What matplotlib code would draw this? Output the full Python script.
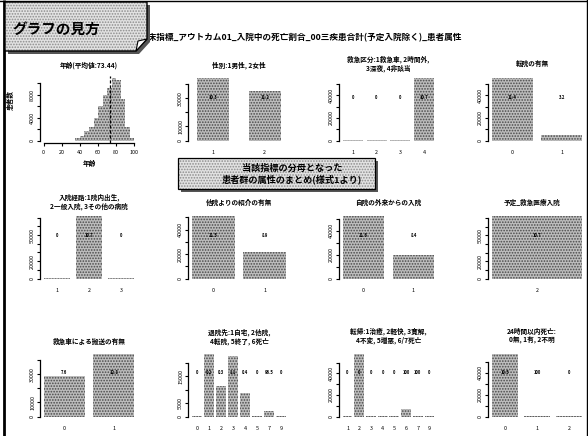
import matplotlib
matplotlib.use("Agg")
import matplotlib.pyplot as plt
from matplotlib.patches import Polygon, Rectangle
import numpy as np

plt.rcParams['font.family'] = ['Noto Sans CJK JP', 'DejaVu Sans']
plt.rcParams['hatch.linewidth'] = 0.8

W, H = 588, 436

# ---------------- data ----------------
MAIN_TITLE = "臨床指標_アウトカム01_入院中の死亡割合_00三疾患合計(予定入院除く)_患者属性"
GUIDE_LABEL = "グラフの見方"
SUMMARY_LABEL = "当該指標の分母となった\n患者群の属性のまとめ(様式1より)"

AGE_MEAN = 73.44
AGE_TITLE = f"年齢(平均値:{AGE_MEAN:.2f})"
AGE_EDGES = [35, 40, 45, 50, 55, 60, 65, 70, 75, 80, 85, 90, 95, 100]
AGE_COUNTS = [400, 800, 1600, 2400, 4000, 6000, 8000, 9200, 10800, 10600, 7200, 2400, 400]
AGE_XTICKS = [0, 20, 40, 60, 80, 100]
AGE_YTICKS = [0, 2000, 4000, 6000, 8000, 10000]
AGE_YLABELS = ["0", "", "4000", "", "8000", ""]

SEX_TITLE = "性別:1男性, 2女性"
SEX_CATS = ["1", "2"]
SEX_N = [44000, 35000]
SEX_RATE = ["10.3", "11.2"]
SEX_YTICKS = [0, 10000, 20000, 30000, 40000]
SEX_YLABELS = ["0", "10000", "", "30000", ""]

EMERG_TITLE = "救急区分:1救急車, 2時間外,\n3深夜, 4非該当"
EMERG_CATS = ["1", "2", "3", "4"]
EMERG_N = [300, 150, 250, 55000]
EMERG_RATE = ["0", "0", "0", "10.7"]

TRANSFER_TITLE = "転院の有無"
TRANSFER_CATS = ["0", "1"]
TRANSFER_N = [55000, 5000]
TRANSFER_RATE = ["11.4", "3.2"]

TICKS_50K = [0, 10000, 20000, 30000, 40000, 50000]
LABELS_50K = ["0", "", "20000", "", "40000", ""]

ROUTE_TITLE = "入院経路:1院内出生,\n2一般入院, 3その他の病院"
ROUTE_CATS = ["1", "2", "3"]
ROUTE_N = [200, 71500, 300]
ROUTE_RATE = ["0", "10.7", "0"]

REFERRAL_TITLE = "他院よりの紹介の有無"
REFERRAL_CATS = ["0", "1"]
REFERRAL_N = [50700, 21300]
REFERRAL_RATE = ["11.5", "8.9"]

OUTPT_TITLE = "自院の外来からの入院"
OUTPT_CATS = ["0", "1"]
OUTPT_N = [52000, 20000]
OUTPT_RATE = ["11.6", "8.4"]

ADMIT_TITLE = "予定_救急医療入院"
ADMIT_CATS = ["2"]
ADMIT_N = [72000]
ADMIT_RATE = ["10.7"]

TICKS_70K = [0, 10000, 20000, 30000, 40000, 50000, 60000, 70000]
LABELS_70K = ["0", "", "20000", "", "", "50000", "", ""]

AMB_TITLE = "救急車による搬送の有無"
AMB_CATS = ["0", "1"]
AMB_N = [29000, 44600]
AMB_RATE = ["7.6", "12.8"]
TICKS_40K = [0, 10000, 20000, 30000, 40000]
LABELS_40K = ["0", "10000", "", "30000", ""]

DISCH_TITLE = "退院先:1自宅, 2他院,\n4転院, 5終了, 6死亡"
DISCH_CATS = ["0", "1", "2", "3", "4", "5", "7", "9"]
DISCH_N = [300, 23400, 11400, 22800, 8900, 200, 2200, 300]
DISCH_RATE = ["0", "0.2", "0.3", "1.1", "0.4", "0", "96.5", "0"]
TICKS_20K = [0, 5000, 10000, 15000, 20000]
LABELS_20K = ["0", "5000", "", "15000", ""]

OUTCOME_TITLE = "転帰:1治癒, 2軽快, 3寛解,\n4不変, 5増悪, 6/7死亡"
OUTCOME_CATS = ["1", "2", "3", "4", "5", "6", "7", "9"]
OUTCOME_N = [400, 58000, 100, 500, 300, 7400, 300, 150]
OUTCOME_RATE = ["0", "0", "0", "0", "0", "100", "100", "0"]

DEATH24_TITLE = "24時間以内死亡:\n0無, 1有, 2不明"
DEATH24_CATS = ["0", "1", "2"]
DEATH24_N = [57000, 400, 200]
DEATH24_RATE = ["10.5", "100", "0"]

# ---------------- style ----------------
FACE = "#bdbdbd"
DOTS = "#4a4a4a"
HATCH = "......"
TICK_FS = 3.9
TITLE_FS = 4.8
RATE_FS = 3.0

COLS = [(40, 138), (188, 290), (339, 438), (488, 586)]
ROWS = [(76, 143), (214, 281), (351.5, 419)]
COL_CENTERS = [89, 239, 388.5, 532]

fig = plt.figure(figsize=(W / 100, H / 100), dpi=100)
fig.patch.set_facecolor("white")


def add_ax(col, row):
    x0, x1 = COLS[col]
    y0, y1 = ROWS[row]
    return fig.add_axes([x0 / W, 1 - y1 / H, (x1 - x0) / W, (y1 - y0) / H])


def r_axis_y(ax, ticks, labels):
    for s in ("top", "right", "bottom"):
        ax.spines[s].set_visible(False)
    ax.spines["left"].set_bounds(ticks[0], ticks[-1])
    ax.spines["left"].set_linewidth(0.9)
    ax.set_yticks(ticks)
    ax.set_yticklabels(labels, rotation=90, va="center", fontsize=TICK_FS)
    ax.tick_params(axis="y", length=2.3, width=0.8, pad=1.2)
    ax.patch.set_alpha(0)


def bar_panel(col, row, cats, counts, rates, ticks, labels, width=1.0):
    ax = add_ax(col, row)
    n = len(cats)
    centers = 0.7 + 1.2 * np.arange(n)
    span = 1.2 * n - 0.2
    pad = 0.04 * span
    ax.bar(centers, counts, width=width, color=FACE, edgecolor=DOTS,
           linewidth=0, hatch=HATCH)
    top = max(counts)
    ax.set_xlim(0.2 - pad, 1.2 * n + pad)
    ax.set_ylim(-0.04 * top, 1.04 * top)
    ax.set_xticks(centers)
    ax.set_xticklabels(cats, fontsize=TICK_FS)
    ax.tick_params(axis="x", length=0, pad=5)
    r_axis_y(ax, ticks, labels)
    for c, r in zip(centers, rates):
        ax.text(c, 0.7 * top, r, ha="center", va="center", fontsize=RATE_FS,
                fontweight="bold")
    return ax


# ---- age histogram ----
ax = add_ax(0, 0)
ax.bar(AGE_EDGES[:-1], AGE_COUNTS, width=np.diff(AGE_EDGES), align="edge",
       color=FACE, edgecolor=DOTS, linewidth=0, hatch=HATCH)
top = max(AGE_COUNTS)
ax.set_xlim(-4, 104)
ax.set_ylim(-0.04 * top, 1.04 * top)
ax.axvline(AGE_MEAN, color="black", lw=0.9, ls=(0, (2.5, 1.5)))
r_axis_y(ax, AGE_YTICKS, AGE_YLABELS)
ax.spines["bottom"].set_visible(True)
ax.spines["bottom"].set_bounds(AGE_XTICKS[0], AGE_XTICKS[-1])
ax.spines["bottom"].set_linewidth(0.9)
ax.set_xticks(AGE_XTICKS)
ax.set_xticklabels([str(t) for t in AGE_XTICKS], fontsize=TICK_FS)
ax.tick_params(axis="x", length=2.3, width=0.8, pad=2.5)

# ---- bar panels ----
bar_panel(1, 0, SEX_CATS, SEX_N, SEX_RATE, SEX_YTICKS, SEX_YLABELS, width=0.75)
bar_panel(2, 0, EMERG_CATS, EMERG_N, EMERG_RATE, TICKS_50K, LABELS_50K)
bar_panel(3, 0, TRANSFER_CATS, TRANSFER_N, TRANSFER_RATE, TICKS_50K, LABELS_50K)
bar_panel(0, 1, ROUTE_CATS, ROUTE_N, ROUTE_RATE, TICKS_70K, LABELS_70K)
bar_panel(1, 1, REFERRAL_CATS, REFERRAL_N, REFERRAL_RATE, TICKS_50K, LABELS_50K)
bar_panel(2, 1, OUTPT_CATS, OUTPT_N, OUTPT_RATE, TICKS_50K, LABELS_50K)
bar_panel(3, 1, ADMIT_CATS, ADMIT_N, ADMIT_RATE, TICKS_70K, LABELS_70K)
bar_panel(0, 2, AMB_CATS, AMB_N, AMB_RATE, TICKS_40K, LABELS_40K)
bar_panel(1, 2, DISCH_CATS, DISCH_N, DISCH_RATE, TICKS_20K, LABELS_20K)
bar_panel(2, 2, OUTCOME_CATS, OUTCOME_N, OUTCOME_RATE, TICKS_50K, LABELS_50K)
bar_panel(3, 2, DEATH24_CATS, DEATH24_N, DEATH24_RATE, TICKS_50K, LABELS_50K)

# ---- overlay: frame, titles, callout boxes ----
ov = fig.add_axes([0, 0, 1, 1], zorder=20)
ov.set_xlim(0, W)
ov.set_ylim(H, 0)
ov.axis("off")
ov.patch.set_alpha(0)

panel_titles = [
    (0, 65, AGE_TITLE), (1, 65, SEX_TITLE), (2, 64, EMERG_TITLE), (3, 63, TRANSFER_TITLE),
    (0, 201.5, ROUTE_TITLE), (1, 202, REFERRAL_TITLE), (2, 202, OUTPT_TITLE), (3, 202, ADMIT_TITLE),
    (0, 341, AMB_TITLE), (1, 336.5, DISCH_TITLE), (2, 336, OUTCOME_TITLE), (3, 336, DEATH24_TITLE),
]
for col, yc, txt in panel_titles:
    ov.text(COL_CENTERS[col], yc, txt, ha="center", va="center", fontsize=TITLE_FS,
            fontweight="bold", linespacing=1.25)

ov.text(89, 163, "年齢", ha="center", va="center", fontsize=TITLE_FS, fontweight="bold")
ov.text(10, 100, "患者数", ha="center", va="center", rotation=90, fontsize=TITLE_FS,
        fontweight="bold")

# page frame
ov.plot([4, 4], [0, H], color="black", lw=2.0, solid_capstyle="butt")
ov.plot([587, 587], [0, H], color="black", lw=1.0)
ov.plot([0, W], [1.2, 1.2], color="black", lw=1.0)

# main title (its first glyph sits under the guide box)
ov.text(139, 37.5, MAIN_TITLE, ha="left", va="center", fontsize=6.2,
        fontweight="bold", zorder=1)

BOX_FACE = "#e2e2e2"
BOX_DOTS = "#8c8c8c"

# guide box with folded corner
guide_outline = [(5, 2), (147, 2), (147, 39), (136, 51), (5, 51)]
ov.add_patch(Polygon([(8, 5), (150, 5), (150, 42), (139, 54), (8, 54)], closed=True,
                     facecolor="#555555", edgecolor="none", zorder=2))
ov.add_patch(Polygon(guide_outline, closed=True, facecolor=BOX_FACE,
                     edgecolor=BOX_DOTS, lw=0, hatch="......", zorder=3))
ov.add_patch(Polygon(guide_outline, closed=True, facecolor="none",
                     edgecolor="black", lw=1.0, zorder=3.5))
ov.add_patch(Polygon([(136, 51), (138, 41), (147, 39)], closed=True,
                     facecolor="white", edgecolor="black", lw=0.8, zorder=4))
ov.text(12, 29, GUIDE_LABEL, ha="left", va="center", fontsize=10.5,
        fontweight="bold", style="italic", zorder=5)

# summary callout
ov.add_patch(Rectangle((181, 161), 197, 31, facecolor="#555555", edgecolor="none",
                       zorder=2))
ov.add_patch(Rectangle((178, 158), 197, 31, facecolor=BOX_FACE, edgecolor=BOX_DOTS,
                       lw=0, hatch="......", zorder=3))
ov.add_patch(Rectangle((178, 158), 197, 31, facecolor="none", edgecolor="black",
                       lw=0.9, zorder=3.5))
ov.text(292, 174, SUMMARY_LABEL, ha="center", va="center", fontsize=6.6,
        fontweight="bold", linespacing=1.2, zorder=5)

fig.savefig("out.png", dpi=100)
